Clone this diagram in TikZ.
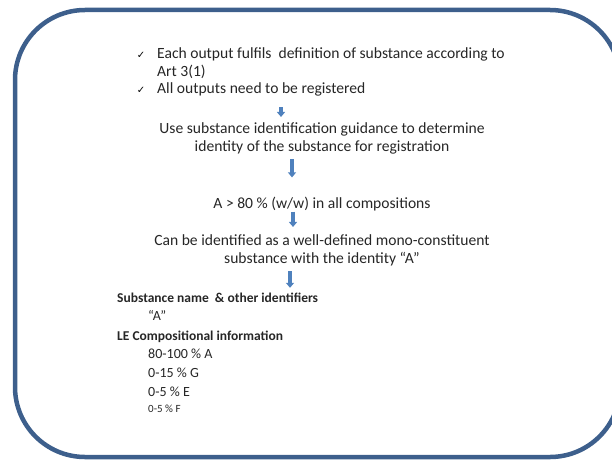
\documentclass[tikz,border=0pt]{standalone}
\usepackage{fontspec}
\setmainfont{Carlito}
\newfontfamily\symfont{DejaVu Sans}
\usetikzlibrary{arrows.meta}
\definecolor{frameblue}{HTML}{3D5F8C}
\definecolor{arrowblue}{HTML}{4F81BD}
\tikzset{
  frame/.style={draw=frameblue,line width=4.5pt,rounded corners=70pt},
  body/.style={inner sep=0pt,font=\fontsize{15.6}{18}\selectfont,text=black!85},
  item/.style={body,font=\fontsize{14}{18}\selectfont},
  head/.style={body,font=\fontsize{13.5}{18}\selectfont\bfseries},
  tick/.style={inner sep=0pt,font=\symfont\fontsize{10}{10}\selectfont},
  flowarrow/.style={draw=arrowblue,line width=3.5pt,-{Triangle[width=8pt,length=5pt]}}
}
\begin{document}
\begin{tikzpicture}[x=1pt,y=-1pt]
\useasboundingbox (0,0) rectangle (612,460);
\begin{scope}
\clip (0,0) rectangle (612,460);
\draw[frame] (15,10) rectangle (620,457);
\end{scope}
% requirements
\node[tick,anchor=base] (tick1) at (141,58) {✓};
\node[body,anchor=base west,align=left] (req1) at (157,76) {Each output fulfils~ definition of substance according to\\Art 3(1)};
\node[tick,anchor=base] (tick2) at (141,93) {✓};
\node[body,anchor=base west] (req2) at (157,93) {All outputs need to be registered};
% flow
\node[body,anchor=base,align=center] (guide) at (322,151) {Use substance identification guidance to determine\\identity of the substance for registration};
\node[body,anchor=base] (comp) at (322,208) {A > 80 \% (w/w) in all compositions};
\node[body,anchor=base,align=center] (mono) at (322,263) {Can be identified as a well-defined mono-constituent\\substance with the identity “A”};
% result
\node[head,anchor=base west] (name) at (117,302) {Substance name~ \& other identifiers};
\node[item,anchor=base west] (nameA) at (148,320) {“A”};
\node[head,anchor=base west] (le) at (117,340) {LE Compositional information};
\node[item,anchor=base west] (cA) at (148,358) {80-100 \% A};
\node[item,anchor=base west] (cG) at (148,377) {0-15 \% G};
\node[item,anchor=base west] (cE) at (148,396) {0-5 \% E};
\node[item,anchor=base west,font=\fontsize{11}{11}\selectfont] (cF) at (148,412) {0-5 \% F};
% arrows
\coordinate (a1) at (281,0);
\coordinate (a2) at (292,0);
\coordinate (a3) at (293,0);
\coordinate (a4) at (290,0);
\draw[flowarrow,shorten <=11.5pt,shorten >=5pt] (req2.south -| a1) -- (guide.north -| a1);
\draw[flowarrow,shorten <=5.5pt,shorten >=19pt] (guide.south -| a2) -- (comp.north -| a2);
\draw[flowarrow,shorten <=1pt,shorten >=7pt] (comp.south -| a3) -- (mono.north -| a3);
\draw[flowarrow,shorten <=5.5pt,shorten >=4.5pt] (mono.south -| a4) -- (name.north -| a4);
\end{tikzpicture}
\end{document}
